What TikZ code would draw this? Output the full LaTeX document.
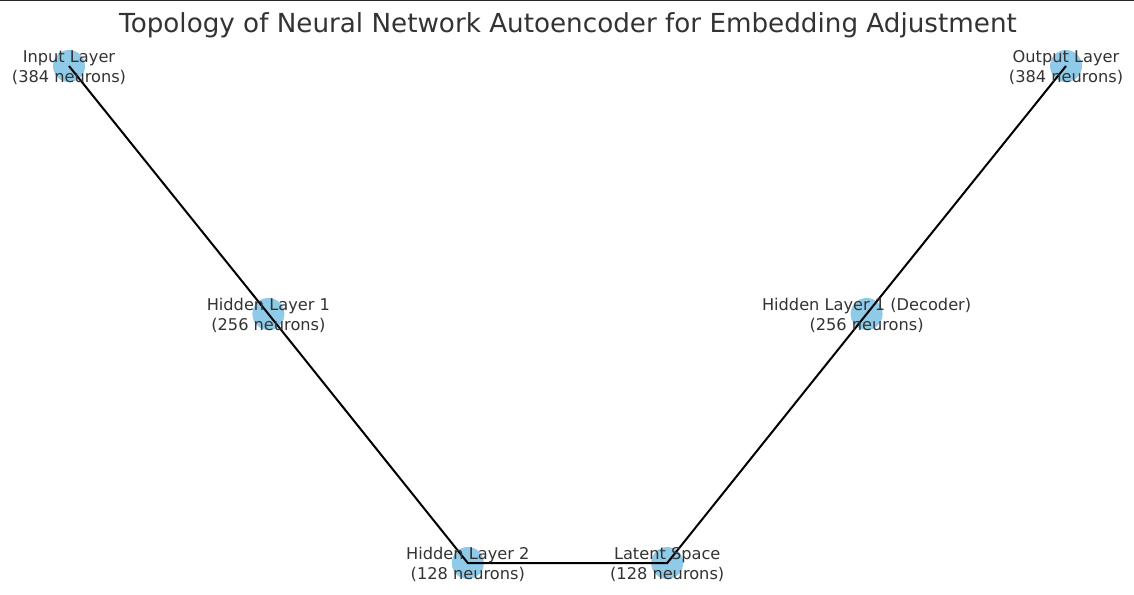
\documentclass[tikz,border=0pt]{standalone}
\usepackage{fontspec}
\setmainfont{DejaVu Sans}
\definecolor{txt}{HTML}{333333}
\definecolor{dot}{RGB}{143,202,232}
\begin{document}
\begin{tikzpicture}[x=1pt,y=-1pt,
  layer/.style={circle,fill=dot,minimum size=32pt,inner sep=0pt},
  lbl/.style={text=txt,align=center,inner sep=0pt,font=\fontsize{16.2}{19.5}\selectfont},
  link/.style={black,line width=2pt}]
\useasboundingbox (0,0) rectangle (1134,594);
\fill[white] (0,0) rectangle (1134,594);
\draw[black!85,line width=1.5pt] (0,0.75) -- (1134,0.75);
\node[text=txt,anchor=base,inner sep=0pt,font=\fontsize{26.2}{30}\selectfont] (title) at (568,33) {Topology of Neural Network Autoencoder for Embedding Adjustment};
\node[layer] (in) at (69,66) {};
\node[layer] (h1) at (268.4,314) {};
\node[layer] (h2) at (467.8,563) {};
\node[layer] (lat) at (667.2,563) {};
\node[layer] (dec) at (866.6,314) {};
\node[layer] (out) at (1066,66) {};
\draw[link] (in.center) -- (h1.center) -- (h2.center) -- (lat.center) -- (dec.center) -- (out.center);
\node[lbl] (tin) at ([yshift=-1.5pt]in) {Input Layer\\(384 neurons)};
\node[lbl] (th1) at ([yshift=-1.5pt]h1) {Hidden Layer 1\\(256 neurons)};
\node[lbl] (th2) at ([yshift=-1.5pt]h2) {Hidden Layer 2\\(128 neurons)};
\node[lbl] (tlat) at ([yshift=-1.5pt]lat) {Latent Space\\(128 neurons)};
\node[lbl] (tdec) at ([yshift=-1.5pt]dec) {Hidden Layer 1 (Decoder)\\(256 neurons)};
\node[lbl] (tout) at ([yshift=-1.5pt]out) {Output Layer\\(384 neurons)};
\end{tikzpicture}
\end{document}
